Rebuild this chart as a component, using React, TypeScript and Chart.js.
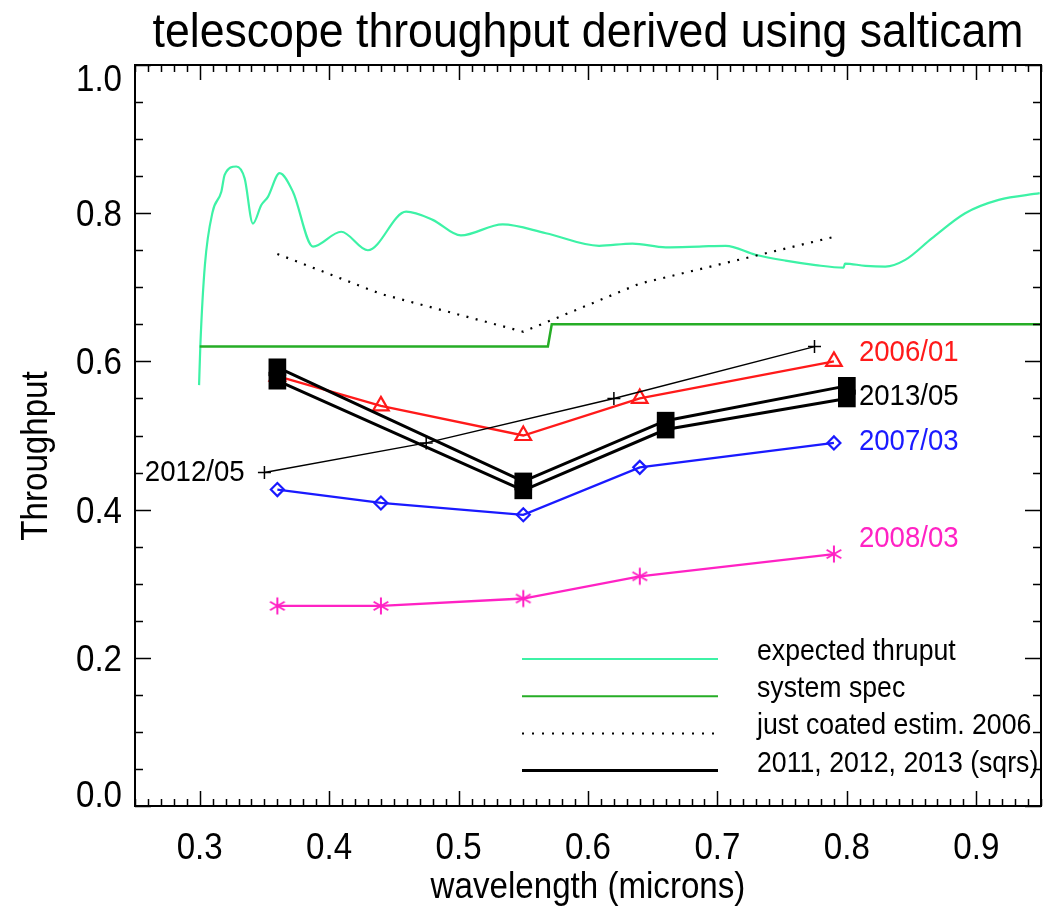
import React, { useEffect, useRef } from 'react';
import { Chart, registerables } from 'chart.js';

Chart.register(...registerables);

// Modelled throughput of the telescope (wavelength in microns)
const expectedWave = [0.2995, 0.3005, 0.304, 0.310, 0.3167, 0.3193, 0.3283, 0.3347, 0.3411, 0.3476, 0.3527, 0.3617, 0.372, 0.3875, 0.4093, 0.4299, 0.4595, 0.48, 0.5018, 0.534, 0.5675, 0.6086, 0.6343, 0.66, 0.6858, 0.7064, 0.7294, 0.7526, 0.7758, 0.7975, 0.7985, 0.8143, 0.8297, 0.8451, 0.8656, 0.8914, 0.9173, 0.949];
const expectedThru = [0.568, 0.622, 0.730, 0.802, 0.829, 0.852, 0.863, 0.847, 0.786, 0.811, 0.822, 0.854, 0.829, 0.755, 0.775, 0.750, 0.802, 0.791, 0.770, 0.785, 0.773, 0.756, 0.759, 0.754, 0.755, 0.756, 0.744, 0.736, 0.730, 0.7265, 0.732, 0.729, 0.728, 0.737, 0.766, 0.800, 0.818, 0.827];

// System specification (step at ~0.57 micron)
const specWave = [0.3, 0.569, 0.572, 0.95];
const specThru = [0.62, 0.62, 0.65, 0.65];

// Just-coated estimate, 2006
const coatedWave = [0.36, 0.44, 0.55, 0.64, 0.79];
const coatedThru = [0.745, 0.691, 0.64, 0.705, 0.768];

// SALTICAM filter measurements
const filterWave = [0.36, 0.44, 0.55, 0.64, 0.79];
const thru200601 = [0.58, 0.54, 0.50, 0.55, 0.60];
const thru200703 = [0.427, 0.409, 0.393, 0.457, 0.49];
const thru200803 = [0.27, 0.27, 0.28, 0.31, 0.34];

const wave201205 = [0.35, 0.475, 0.62, 0.775];
const thru201205 = [0.45, 0.49, 0.55, 0.62];

const squareWave = [0.36, 0.55, 0.66, 0.80];
const thru2011 = [0.592, 0.438, 0.52, 0.567];
const thru2013 = [0.574, 0.426, 0.508, 0.55];

// Axis range and ticks
const xMin = 0.25;
const xMax = 0.95;
const yMin = 0.0;
const yMax = 1.0;
const xTickValues = [0.3, 0.4, 0.5, 0.6, 0.7, 0.8, 0.9];
const xTickLabels = ['0.3', '0.4', '0.5', '0.6', '0.7', '0.8', '0.9'];
const yTickValues = [0.0, 0.2, 0.4, 0.6, 0.8, 1.0];
const yTickLabels = ['0.0', '0.2', '0.4', '0.6', '0.8', '1.0'];

// Epoch labels next to the curves
const epochLabels = ['2006/01', '2013/05', '2007/03', '2008/03', '2012/05'];
const epochColors = ['#ff1a1a', '#000000', '#1a1aff', '#ff22c4', '#000000'];
const epochLabelWave = [0.8093, 0.8093, 0.8093, 0.8093, 0.3347];
const epochLabelThru = [0.616, 0.5566, 0.4957, 0.364, 0.454];
const epochLabelAlign: CanvasTextAlign[] = ['left', 'left', 'left', 'left', 'right'];

const legendLabels = ['expected thruput', 'system spec', 'just coated estim. 2006', '2011, 2012, 2013 (sqrs)'];

const CYAN = '#3df2a6';
const GREEN = '#26ad26';
const RED = '#ff1a1a';
const BLUE = '#1a1aff';
const MAGENTA = '#ff22c4';
const FONT = '"Liberation Sans", Arial, Helvetica, sans-serif';
const NARROW = 0.92;

const pts = (xs: number[], ys: number[]) => xs.map((x, i) => ({ x, y: ys[i] }));

function drawText(
  ctx: CanvasRenderingContext2D,
  s: string,
  x: number,
  y: number,
  size: number,
  color: string,
  align: CanvasTextAlign,
  rot = 0,
  sx = NARROW
) {
  ctx.save();
  ctx.translate(x, y);
  if (rot) ctx.rotate(rot);
  ctx.scale(sx, 1);
  ctx.font = `${size}px ${FONT}`;
  ctx.fillStyle = color;
  ctx.textAlign = align;
  ctx.textBaseline = 'alphabetic';
  ctx.fillText(s, 0, 0);
  ctx.restore();
}

function makeAsterisk(color: string, r: number, lw: number) {
  const size = 2 * Math.ceil(r + lw);
  const c = document.createElement('canvas');
  c.width = size;
  c.height = size;
  const g = c.getContext('2d')!;
  g.strokeStyle = color;
  g.lineWidth = lw;
  const m = size / 2;
  for (const deg of [90, 30, 150]) {
    const a = (deg * Math.PI) / 180;
    g.beginPath();
    g.moveTo(m - r * Math.cos(a), m - r * Math.sin(a));
    g.lineTo(m + r * Math.cos(a), m + r * Math.sin(a));
    g.stroke();
  }
  return c;
}

const framePlugin = {
  id: 'idlFrame',
  afterDatasetsDraw(chart: any) {
    const { ctx, scales } = chart;
    const xs = scales.x;
    const ys = scales.y;
    const left = xs.getPixelForValue(xMin);
    const right = xs.getPixelForValue(xMax);
    const top = ys.getPixelForValue(yMax);
    const bottom = ys.getPixelForValue(yMin);
    ctx.save();

    // tick marks, pointing inward on all four sides
    ctx.strokeStyle = '#000';
    ctx.lineWidth = 1.5;
    ctx.beginPath();
    for (let i = 25; i <= 95; i++) {
      const px = Math.round(xs.getPixelForValue(i / 100)) + 0.5;
      const len = i % 10 === 0 ? 15 : 7;
      ctx.moveTo(px, bottom);
      ctx.lineTo(px, bottom - len);
      ctx.moveTo(px, top);
      ctx.lineTo(px, top + len);
    }
    for (let i = 0; i <= 20; i++) {
      const py = Math.round(ys.getPixelForValue(i / 20)) + 0.5;
      const len = i % 4 === 0 ? 16 : 8;
      ctx.moveTo(left, py);
      ctx.lineTo(left + len, py);
      ctx.moveTo(right, py);
      ctx.lineTo(right - len, py);
    }
    ctx.stroke();

    // legend block
    const legendX0 = 522;
    const legendX1 = 718;
    const legendY0 = 659;
    const legendDy = 37.2;
    legendLabels.forEach((lab, i) => {
      const ly = legendY0 + i * legendDy;
      ctx.save();
      ctx.beginPath();
      if (i === 0) { ctx.strokeStyle = CYAN; ctx.lineWidth = 2; }
      if (i === 1) { ctx.strokeStyle = GREEN; ctx.lineWidth = 2; }
      if (i === 2) { ctx.strokeStyle = '#000'; ctx.lineWidth = 2; ctx.setLineDash([2, 8]); }
      if (i === 3) { ctx.strokeStyle = '#000'; ctx.lineWidth = 3; }
      ctx.moveTo(legendX0, ly);
      ctx.lineTo(legendX1, ly);
      ctx.stroke();
      ctx.restore();
      drawText(ctx, lab, 757, ly + 1, 29, '#000', 'left');
    });

    // epoch labels
    epochLabels.forEach((lab, i) => {
      const px = xs.getPixelForValue(epochLabelWave[i]);
      const py = ys.getPixelForValue(epochLabelThru[i]);
      drawText(ctx, lab, px, py + 11, 30, epochColors[i], epochLabelAlign[i]);
    });

    // box
    ctx.strokeStyle = '#000';
    ctx.lineWidth = 2;
    ctx.strokeRect(left, top, right - left, bottom - top);

    // tick labels
    xTickValues.forEach((v, i) => {
      drawText(ctx, xTickLabels[i], xs.getPixelForValue(v), 859, 36, '#000', 'center');
    });
    yTickValues.forEach((v, i) => {
      let py = ys.getPixelForValue(v);
      py = Math.min(Math.max(py, top + 13), bottom - 12);
      drawText(ctx, yTickLabels[i], 122, py + 13, 36, '#000', 'right');
    });

    // titles
    const cx = (left + right) / 2;
    drawText(ctx, 'telescope throughput derived using salticam', cx, 47, 48, '#000', 'center', 0, 0.93);
    drawText(ctx, 'wavelength (microns)', cx, 898, 36, '#000', 'center');
    drawText(ctx, 'Throughput', 47, 456, 36, '#000', 'center', -Math.PI / 2);

    ctx.restore();
  },
};

export default function App() {
  const ref = useRef<HTMLCanvasElement>(null);

  useEffect(() => {
    const canvas = ref.current;
    if (!canvas) return;
    const asterisk = makeAsterisk(MAGENTA, 8.5, 2);
    const transparent = 'rgba(0,0,0,0)';

    const chart = new Chart(canvas, {
      type: 'line',
      data: {
        datasets: [
          {
            label: '2011',
            data: pts(squareWave, thru2011),
            borderColor: '#000',
            borderWidth: 3,
            pointStyle: 'rect',
            pointRadius: 12.5,
            pointBackgroundColor: '#000',
            pointBorderWidth: 0,
          },
          {
            label: '2013/05',
            data: pts(squareWave, thru2013),
            borderColor: '#000',
            borderWidth: 3,
            pointStyle: 'rect',
            pointRadius: 12.5,
            pointBackgroundColor: '#000',
            pointBorderWidth: 0,
          },
          {
            label: '2012/05',
            data: pts(wave201205, thru201205),
            borderColor: '#000',
            borderWidth: 1.4,
            pointStyle: 'cross',
            pointRadius: 6.5,
            pointBorderColor: '#000',
            pointBorderWidth: 1.5,
          },
          {
            label: '2006/01',
            data: pts(filterWave, thru200601),
            borderColor: RED,
            borderWidth: 2.3,
            pointStyle: 'triangle',
            pointRadius: 9,
            pointBorderColor: RED,
            pointBackgroundColor: transparent,
            pointBorderWidth: 2.2,
          },
          {
            label: '2007/03',
            data: pts(filterWave, thru200703),
            borderColor: BLUE,
            borderWidth: 2.3,
            pointStyle: 'rectRot',
            pointRadius: 6.5,
            pointBorderColor: BLUE,
            pointBackgroundColor: transparent,
            pointBorderWidth: 2.2,
          },
          {
            label: '2008/03',
            data: pts(filterWave, thru200803),
            borderColor: MAGENTA,
            borderWidth: 2.3,
            pointStyle: asterisk as any,
            pointRadius: 8,
          },
          {
            label: 'just coated estim. 2006',
            data: pts(coatedWave, coatedThru),
            borderColor: '#000',
            borderWidth: 2.2,
            borderDash: [2, 7.5],
            pointRadius: 0,
          },
          {
            label: 'system spec',
            data: pts(specWave, specThru),
            borderColor: GREEN,
            borderWidth: 2.5,
            pointRadius: 0,
          },
          {
            label: 'expected thruput',
            data: pts(expectedWave, expectedThru),
            borderColor: CYAN,
            borderWidth: 2.2,
            cubicInterpolationMode: 'monotone',
            pointRadius: 0,
          },
        ],
      },
      options: {
        animation: false,
        responsive: false,
        devicePixelRatio: 1,
        layout: { autoPadding: false, padding: { left: 135, top: 65, right: 2, bottom: 104 } },
        scales: {
          x: { type: 'linear', min: xMin, max: xMax, display: false },
          y: { type: 'linear', min: yMin, max: yMax, display: false },
        },
        plugins: {
          legend: { display: false },
          title: { display: false },
          tooltip: { enabled: false },
        },
      },
      plugins: [framePlugin],
    });

    return () => chart.destroy();
  }, []);

  return (
    <div style={{ position: 'fixed', left: 0, top: 0, width: 1043, height: 910, background: '#fff' }}>
      <canvas ref={ref} width={1043} height={910} style={{ display: 'block' }} />
    </div>
  );
}
